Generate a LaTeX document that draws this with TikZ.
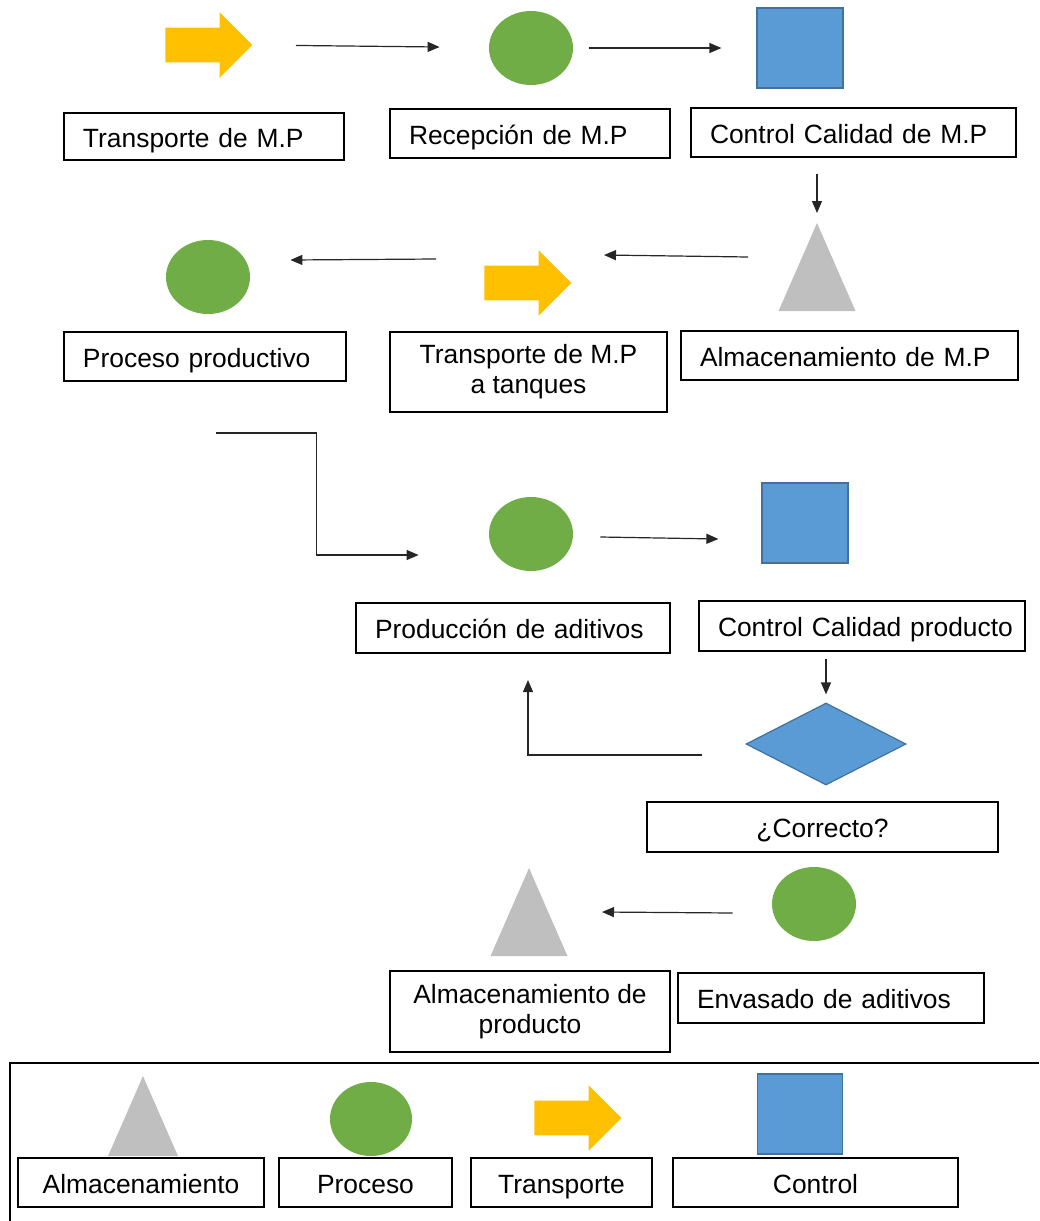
\documentclass[tikz,border=0pt]{standalone}
\usepackage{fontspec}
\setmainfont{Liberation Sans}
\usetikzlibrary{shapes.geometric,shapes.arrows,arrows.meta}
\definecolor{procgreen}{HTML}{70AD47}
\definecolor{ctrlblue}{HTML}{5B9BD5}
\definecolor{ctrledge}{HTML}{41719C}
\definecolor{transyel}{HTML}{FFC000}
\definecolor{almgray}{HTML}{BFBFBF}
\begin{document}
\begin{tikzpicture}[x=0.5pt, y=-0.5pt, font=\fontsize{13.2}{15}\selectfont,
  proc/.style={ellipse, fill=procgreen, inner sep=0pt, minimum width=42pt, minimum height=37pt},
  ctrl/.style={rectangle, fill=ctrlblue, draw=ctrledge, line width=0.6pt, inner sep=0pt, minimum width=43pt, minimum height=40pt},
  trans/.style={single arrow, fill=transyel, inner xsep=0pt, inner ysep=8.5pt, minimum height=43.5pt,
    single arrow head extend=7.75pt, single arrow tip angle=90, anchor=tip},
  alm/.style={isosceles triangle, shape border rotate=90, isosceles triangle stretches, fill=almgray,
    inner sep=0pt, minimum width=38.5pt, minimum height=44pt, anchor=apex},
  decis/.style={diamond, fill=ctrlblue, draw=ctrledge, line width=0.6pt, inner sep=0pt, minimum width=80pt, minimum height=41pt},
  box/.style={draw, line width=1pt, anchor=north west, inner ysep=0pt},
  lbox/.style 2 args={box, inner xsep=9.5pt, text width=#1, minimum height=#2, align=left, text height=12.5pt, text depth=2pt},
  cbox/.style 2 args={box, inner xsep=0pt, minimum width=#1, minimum height=#2, align=center},
  sbox/.style 2 args={cbox={#1}{#2}, text height=12.5pt, text depth=2pt},
  conn/.style={-{Triangle[length=6pt,width=5pt]}, line width=0.6pt, black!85}]
  \useasboundingbox (0,0) rectangle (1039,1221);
  % materia prima
  \node[trans] (ta1) at (253,45) {};
  \node[proc] (rc1) at (531,48) {};
  \node[ctrl] (cq1) at (800,48) {};
  \node[lbox={121pt}{23.5pt}] (bta1) at (63,112) {Transporte de M.P};
  \node[lbox={121pt}{24.5pt}] (brc1) at (389,108) {Recepción de M.P};
  \node[lbox={143.5pt}{24.5pt}] (bcq1) at (690,107) {Control Calidad de M.P};
  \node[alm] (al1) at (817,222) {};
  \node[trans] (ta2) at (572,283) {};
  \node[proc] (pp) at (208,277) {};
  \node[lbox={122pt}{24.5pt}] (bpp) at (63,331) {Proceso productivo};
  \node[cbox={138.5pt}{40pt}] (bta2) at (389,331) {Transporte de M.P\\a tanques};
  \node[lbox={149.5pt}{24.5pt}] (bal1) at (680,330) {\mbox{Almacenamiento de M.P}};
  % producto
  \node[proc] (pa) at (531,534) {};
  \node[ctrl] (cq2) at (805,523) {};
  \node[lbox={138pt}{25pt}] (bpa) at (355,602) {Producción de aditivos};
  \node[lbox={144pt}{25pt}] (bcq2) at (698,600) {\mbox{Control Calidad producto}};
  \node[decis] (ok) at (826,744) {};
  \node[sbox={175.5pt}{25pt}] (bok) at (646,801) {¿Correcto?};
  \node[proc] (ev) at (814,904) {};
  \node[alm] (al2) at (529,867) {};
  \node[cbox={140pt}{40.5pt}] (bal2) at (389,970) {Almacenamiento de\\producto};
  \node[lbox={134pt}{25pt}] (bev) at (677,972) {Envasado de aditivos};
  % connectors
  \draw[conn, shorten <=21.5pt, shorten >=24.5pt] (ta1.tip) -- (rc1);
  \draw[conn, shorten <=8pt, shorten >=17.5pt] (rc1) -- (cq1);
  \draw[conn, shorten <=8pt, shorten >=4.5pt] (bcq1.south -| al1.apex) -- (al1.apex);
  \draw[conn] ([shift={(-69,35)}]al1.apex) -- ([shift={(32,-28)}]ta2.tip);
  \draw[conn] ([shift={(-48,-24)}]ta2.tail) -- ([shift={(40,-17)}]pp.east);
  \draw[conn] ([shift={(11,51)}]bpp.south) -| ([shift={(-172,21)}]pa.west) -- ([shift={(-70,21)}]pa.west);
  \draw[conn] ([shift={(27,3)}]pa.east) -- ([shift={(-43,16)}]cq2.west);
  \draw[conn, shorten <=3.5pt, shorten >=4pt] (bcq2.south -| ok.north) -- (ok.north);
  \draw[conn] ([shift={(-43,11)}]ok.west) -| ([shift={(15,26)}]bpa.south);
  \draw[conn] ([shift={(-39,9)}]ev.west) -- ([shift={(73,45)}]al2.apex);
  % leyenda
  \draw[line width=1pt] (1039,1063) -| (10,1221);
  \node[alm, minimum width=35pt, minimum height=40pt] (lal) at (143,1075) {};
  \node[proc, minimum width=41pt] (lpr) at (371,1119) {};
  \node[trans] (ltr) at (622,1118) {};
  \node[ctrl, minimum width=42.5pt] (lct) at (800,1114) {};
  \node[sbox={123pt}{24.5pt}] (blal) at (17,1157) {Almacenamiento};
  \node[sbox={86.5pt}{24.5pt}] (blpr) at (278,1157) {Proceso};
  \node[sbox={90.5pt}{24.5pt}] (bltr) at (470,1157) {Transporte};
  \node[sbox={142.5pt}{24.5pt}] (blct) at (672,1157) {Control};
\end{tikzpicture}
\end{document}
